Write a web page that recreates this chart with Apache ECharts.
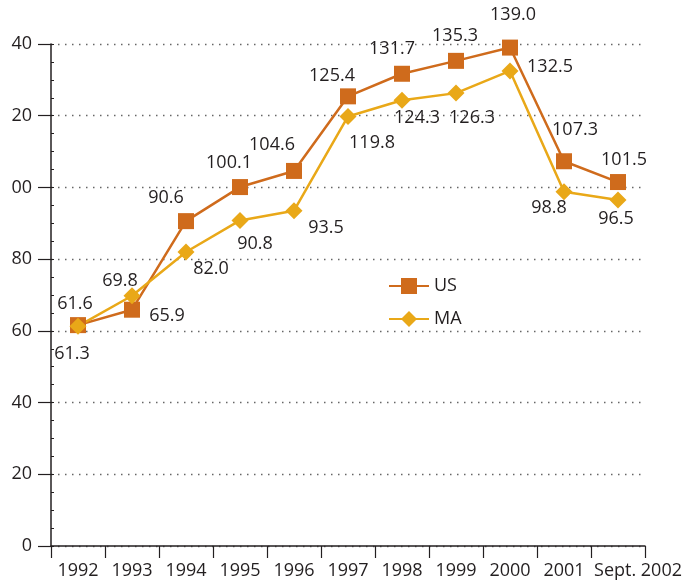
<!DOCTYPE html>
<html>
<head>
<meta charset="utf-8">
<script src="https://cdn.jsdelivr.net/npm/echarts@6/dist/echarts.min.js"></script>
<style>
  html, body { margin: 0; padding: 0; background: #fff; }
  #chart { width: 697px; height: 581px; }
</style>
</head>
<body>
<div id="chart"></div>
<script>
  // 数据
  var years = ['1992', '1993', '1994', '1995', '1996', '1997', '1998', '1999', '2000', '2001', 'Sept. 2002'];
  var usValues = [61.6, 65.9, 90.6, 100.1, 104.6, 125.4, 131.7, 135.3, 139.0, 107.3, 101.5];
  var maValues = [61.3, 69.8, 82.0, 90.8, 93.5, 119.8, 124.3, 126.3, 132.5, 98.8, 96.5];

  // label offsets (from point centre)
  var usLabelOffsets = [[-3, -21], [35, 6], [-20, -23], [-11, -24], [-22, -26], [-16, -20], [-10, -25], [-1, -25], [3, -33], [11, -31], [6, -22]];
  var maLabelOffsets = [[-6, 28], [-12, -15], [25, 17], [15, 23], [32, 17], [24, 26], [15, 18], [16, 25], [40, -4], [-15, 16], [-2, 19]];

  var textColor = '#231f20';
  var fontFamily = '"Open Sans", "Noto Sans", sans-serif';
  var fontSize = 18;

  function withLabels(values, offsets) {
    return values.map(function (v, i) {
      return {
        value: v,
        label: { offset: offsets[i] }
      };
    });
  }

  var myChart = echarts.init(document.getElementById('chart'));
  myChart.setOption({
    animation: false,
    textStyle: { fontFamily: fontFamily },
    grid: { left: 51, right: 52, top: 44, bottom: 35 },
    legend: {
      orient: 'vertical',
      left: 388,
      top: 277,
      padding: 0,
      itemWidth: 40,
      itemHeight: 20,
      itemGap: 15,
      textStyle: { color: textColor, fontSize: fontSize, fontFamily: fontFamily },
      data: ['US', 'MA']
    },
    xAxis: {
      type: 'category',
      boundaryGap: true,
      data: years.map(function (y, i) {
        if (i === years.length - 1) {
          return { value: y, textStyle: { padding: [0, 0, 0, 40] } };
        }
        return y;
      }),
      axisLine: { lineStyle: { color: textColor, width: 1.5 } },
      axisTick: { show: true, length: 12, lineStyle: { color: textColor, width: 1.2 } },
      axisLabel: { interval: 0, margin: 16, color: textColor, fontSize: fontSize, fontFamily: fontFamily },
      splitLine: { show: false }
    },
    yAxis: [
      {
        type: 'value',
        min: 0,
        max: 140,
        interval: 20,
        axisLine: { show: true, lineStyle: { color: textColor, width: 1.5 } },
        axisTick: { show: true, length: 13, lineStyle: { color: textColor, width: 1.2 } },
        axisLabel: {
          margin: 19,
          color: textColor,
          fontSize: fontSize,
          fontFamily: fontFamily,
          formatter: function (v) {
            var s = String(v);
            return v >= 100 ? s.slice(1) : s;
          }
        },
        splitLine: {
          show: true,
          lineStyle: { color: '#666', width: 1.3, type: [1.5, 5.5] }
        }
      },
      {
        type: 'value',
        position: 'left',
        min: 0,
        max: 140,
        interval: 20,
        axisLine: { show: false },
        axisTick: { show: true, inside: true, length: 3, lineStyle: { color: textColor, width: 1 } },
        minorTick: { show: true, splitNumber: 4, length: 3, lineStyle: { color: textColor, width: 1 } },
        axisLabel: { show: false },
        splitLine: { show: false }
      }
    ],
    series: [
      {
        name: 'US',
        type: 'line',
        yAxisIndex: 0,
        symbol: 'rect',
        symbolSize: 16,
        itemStyle: { color: '#cf6b1c' },
        lineStyle: { color: '#cf6b1c', width: 2.5 },
        label: {
          show: true,
          position: 'inside',
          color: textColor,
          fontSize: fontSize,
          fontFamily: fontFamily,
          formatter: function (p) { return p.value.toFixed(1); }
        },
        data: withLabels(usValues, usLabelOffsets)
      },
      {
        name: 'MA',
        type: 'line',
        yAxisIndex: 0,
        symbol: 'diamond',
        symbolSize: 17,
        itemStyle: { color: '#e9a818' },
        lineStyle: { color: '#e9a818', width: 2.5 },
        label: {
          show: true,
          position: 'inside',
          color: textColor,
          fontSize: fontSize,
          fontFamily: fontFamily,
          formatter: function (p) { return p.value.toFixed(1); }
        },
        data: withLabels(maValues, maLabelOffsets)
      }
    ]
  });
</script>
</body>
</html>
